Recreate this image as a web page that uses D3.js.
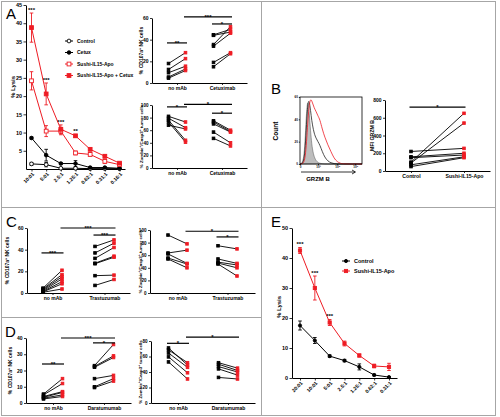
<!DOCTYPE html>
<html><head><meta charset="utf-8">
<script src="https://cdn.jsdelivr.net/npm/d3@7"></script>
<style>
body{margin:0;background:#fff;}
svg{display:block;font-family:"Liberation Sans",Arial,sans-serif;font-weight:bold;}
text{fill:#000;}
</style></head><body>
<script>
// ---------------- DATA ----------------
// Panel A: % lysis vs E:T ratio
const ratiosA = ["10:01","5:01","2.5:1","1.25:1","0.62:1","0.31:1","0.16:1"];
const seriesNamesA = ["Control","Cetux","Sushi-IL15-Apo","Sushi-IL15-Apo + Cetux"];
const lysisControlA = [1.4,1.2,0.2,0.2,0.1,0.1,0.1];
const lysisControlErrA = [0.4,0.6,0.1,0.1,0,0,0];
const lysisCetuxA = [8.5,3.8,1.5,1.5,0.4,0.4,0.2];
const lysisCetuxErrA = [0.3,1.6,0.3,0.8,0.2,0.2,0.1];
const lysisSushiA = [24.2,10.4,10.4,4.4,4.0,2.1,1.2];
const lysisSushiErrA = [2.5,1.5,1.0,0.5,0.5,0.6,0.3];
const lysisComboA = [38.8,20.6,10.9,9.1,5.4,3.5,1.6];
const lysisComboErrA = [4.0,3.0,1.2,0.4,0.4,0.4,0.3];
const starsA = ["***","***","***","**","","",""];
const yTicksA = [5,10,15,20,25,30,35,40,45];

// Panel A: paired plots (Cetuximab)
const catsA = ["no mAb","Cetuximab"];
const aCd107NoMabCtrl = [18,12.5,9.5,5.5,4.5];
const aCd107NoMabSushi = [28,22.5,15.5,13,11.5];
const aCd107CetuxCtrl = [44.5,44,35.5,34,19,15];
const aCd107CetuxSushi = [49.5,47,52,46,28,27];
const aZombNoMabCtrl = [82,79,76,73,68];
const aZombNoMabSushi = [73,64,44,41,62];
const aZombCetuxCtrl = [75,73,70,57,47];
const aZombCetuxSushi = [60,58,57,40,35];
const sigACd107 = [
  {a:"no mAb",sa:-1,b:"no mAb",sb:1,v:37,t:"**"},
  {a:"no mAb",sa:1,b:"Cetuximab",sb:1,v:61,t:"***"},
  {a:"Cetuximab",sa:-1,b:"Cetuximab",sb:1,v:54.5,t:"*"}];
const sigAZomb = [
  {a:"no mAb",sa:-1,b:"no mAb",sb:1,v:97,t:"*"},
  {a:"no mAb",sa:1,b:"Cetuximab",sb:1,v:101,t:"*"},
  {a:"Cetuximab",sa:-1,b:"Cetuximab",sb:1,v:87,t:"*"}];

// Panel B: GRZM B histogram + MFI
const histBins = [0,3,6,8,10,12,14,16,18,20,23,26,29,32,36,40,45,50,55,60,65,70,100];
const histIsotype = [0,0.5,5,18,42,57,53,37,23,13,6,3,1.2,0.6,0.3,0,0,0,0,0,0,0,0];
const histControl = [0,0.3,2.5,11,30,51,58,53,43,35,27,23,20,17,11,6,2.5,1,0.3,0,0,0,0];
const histSushi = [0,0,1.2,5,15,33,48,57,58,55,50,47,43,40,31,24,17,11,5,2,0.6,0,0];
const histYTicks = [0,20,40,60];
const histXTickPos = [0,29,60,89];
const histXTickLabels = ["0","10³","10⁴","10⁵"];
const catsB = ["Control","Sushi-IL15-Apo"];
const bMfiCtrl = [220,160,150,100,90,70,50];
const bMfiSushi = [255,200,180,650,540,160,150];
const sigB = [{a:"Control",sa:0,b:"Sushi-IL15-Apo",sb:0,v:720,t:"*"}];

// Panel C: Trastuzumab
const catsC = ["no mAb","Trastuzumab"];
const cCd107NoMabCtrl = [4.5,3.7,3.0,2.2,1.5,1.0,0.7];
const cCd107NoMabSushi = [21,17,15,13,10.5,8.5,3.7];
const cCd107TrasCtrl = [43,37,32,27.5,27,16,7];
const cCd107TrasSushi = [49,46,42,34,33,16.5,12.5];
const cZombNoMabCtrl = [92,63.5,62,55.5,54];
const cZombNoMabSushi = [78,68,47,46,40];
const cZombTrasCtrl = [75,54,49,47.5,46];
const cZombTrasSushi = [70,47,44.5,40,27];
const sigCCd107 = [
  {a:"no mAb",sa:-1,b:"no mAb",sb:1,v:37,t:"***"},
  {a:"no mAb",sa:1,b:"Trastuzumab",sb:1,v:60,t:"***"},
  {a:"Trastuzumab",sa:-1,b:"Trastuzumab",sb:1,v:53.5,t:"***"}];
const sigCZomb = [
  {a:"no mAb",sa:1,b:"Trastuzumab",sb:1,v:98,t:"*"},
  {a:"Trastuzumab",sa:-1,b:"Trastuzumab",sb:1,v:89,t:"*"}];

// Panel D: Daratumumab
const catsD = ["no mAb","Daratumumab"];
const dCd107NoMabCtrl = [5.5,5,4,3.5,3,2.5];
const dCd107NoMabSushi = [15,12,7,6.5,5,4];
const dCd107DaraCtrl = [23,22.5,22,15,10,9.5];
const dCd107DaraSushi = [36,29,28,17,15,13.5];
const dZombNoMabCtrl = [71,68.5,64.5,59.5,53];
const dZombNoMabSushi = [49,52,46,39,31];
const dZombDaraCtrl = [52,50,47,44,33];
const dZombDaraSushi = [45,42,40,36,31];
const sigDCd107 = [
  {a:"no mAb",sa:-1,b:"no mAb",sb:1,v:24,t:"**"},
  {a:"no mAb",sa:1,b:"Daratumumab",sb:1,v:40,t:"***"},
  {a:"Daratumumab",sa:-1,b:"Daratumumab",sb:1,v:37,t:"*"}];
const sigDZomb = [
  {a:"no mAb",sa:-1,b:"no mAb",sb:1,v:77,t:"*"},
  {a:"no mAb",sa:1,b:"Daratumumab",sb:1,v:85,t:"*"}];

// Panel E: % lysis
const ratiosE = ["20:01","10:01","5:01","2.5:1","1.25:1","0.62:1","0.31:1"];
const seriesNamesE = ["Control","Sushi-IL15-Apo"];
const lysisControlE = [17.5,12.5,7.3,5.8,3.7,1.0,0.3];
const lysisControlErrE = [1.5,1.0,0.4,0.4,1.0,0.3,0.2];
const lysisSushiE = [42.5,30,18.5,11.5,7.5,4,3.7];
const lysisSushiErrE = [1,4,1,0.8,0.5,0.6,1.2];
const starsE = ["***","***","***","","","",""];
const yTicksE = [0,10,20,30,40,50];

// ---------------- DRAWING ----------------
const RED = "#ee1c24";
const svg = d3.select("body").append("svg").attr("width",500).attr("height",417);
svg.append("rect").attr("width",500).attr("height",417).attr("fill","#fff");

const border = svg.append("g").attr("stroke","#a6a6a6").attr("stroke-width",1).attr("fill","none");
border.append("rect").attr("x",1.5).attr("y",1.5).attr("width",494).attr("height",414);
border.append("line").attr("x1",261.5).attr("x2",261.5).attr("y1",1.5).attr("y2",415.5);
border.append("line").attr("x1",1.5).attr("x2",495.5).attr("y1",207.5).attr("y2",207.5);
border.append("line").attr("x1",1.5).attr("x2",261.5).attr("y1",317.5).attr("y2",317.5);

[["A",6,19],["B",271,94],["C",6,227],["D",5,337],["E",271,227]].forEach(([t,x,y])=>{
  svg.append("text").attr("x",x).attr("y",y).attr("fill","#000").style("font-size","15px").style("font-weight","normal").text(t);
});

function styleAxis(sel, fs){
  sel.attr("font-family",null).attr("font-size",null);
  sel.selectAll(".domain").attr("stroke","#000").attr("stroke-width",1);
  sel.selectAll(".tick line").attr("stroke","#000").attr("stroke-width",0.8);
  sel.selectAll(".tick text").attr("fill","#000").style("font-size",fs+"px");
}
function rotLabel(g,x,y,parts,fs){
  const t = g.append("text").attr("transform",`translate(${x},${y}) rotate(-90)`)
    .attr("text-anchor","middle").attr("fill","#000").style("font-size",fs+"px");
  let prevSup=false;
  parts.forEach(([s,sup])=>{
    const ts = t.append("tspan").text(s);
    if(sup){ ts.attr("dy",-fs*0.38).style("font-size",(fs*0.7)+"px"); prevSup=true; }
    else if(prevSup){ ts.attr("dy",fs*0.38); prevSup=false; }
  });
  return t;
}
const CD107 = [["% CD107a",0],["+",1],[" NK cells",0]];
const ZOMB = [["% Zombie",0],["+",1],["/Casp3",0],["+",1],[" tumor cells",0]];

function marker(g, shape, cx, cy, size, color, filled){
  if(shape==="circle"){
    g.append("circle").attr("cx",cx).attr("cy",cy).attr("r",size/2)
      .attr("fill",filled?color:"#fff").attr("stroke",color).attr("stroke-width",0.9);
  } else {
    g.append("rect").attr("x",cx-size/2).attr("y",cy-size/2).attr("width",size).attr("height",size)
      .attr("fill",filled?color:"#fff").attr("stroke",color).attr("stroke-width",0.9);
  }
}

function paired(o){
  const g = svg.append("g");
  const y = d3.scaleLinear().domain([0,o.max]).range([o.yb,o.yt]);
  const step = o.c2-o.c1;
  const x = d3.scalePoint().domain(o.cats).range([o.x0,o.x1]).padding(((o.x1-o.x0)/step-1)/2);
  g.append("g").attr("transform",`translate(${o.x0},0)`)
    .call(d3.axisLeft(y).tickValues(o.ticks).tickSize(2).tickSizeOuter(0).tickPadding(1.5))
    .call(styleAxis,o.tfs||5);
  g.append("g").attr("transform",`translate(0,${o.yb})`)
    .call(d3.axisBottom(x).tickSize(2).tickSizeOuter(0).tickPadding(1.5))
    .call(styleAxis,o.cfs||5);
  o.groups.forEach((pair,gi)=>{
    let xb, xr;
    if(o.across){ xb=x(o.cats[0]); xr=x(o.cats[1]); }
    else { const cat=o.cats[gi]; xb=x(cat)-o.off; xr=x(cat)+o.off; }
    pair[0].forEach((b,i)=>{
      g.append("line").attr("x1",xb).attr("y1",y(b)).attr("x2",xr).attr("y2",y(pair[1][i]))
        .attr("stroke","#000").attr("stroke-width",0.9);
    });
    pair[0].forEach(b=>marker(g,"square",xb,y(b),2.6,"#000",true));
    pair[1].forEach(r=>marker(g,"square",xr,y(r),2.6,RED,true));
  });
  o.sig.forEach(s=>{
    const xa=x(s.a)+s.sa*o.off-1.5, xz=x(s.b)+s.sb*o.off+1.5, yy=y(s.v);
    g.append("line").attr("x1",xa).attr("x2",xz).attr("y1",yy).attr("y2",yy)
      .attr("stroke","#000").attr("stroke-width",1.2);
    g.append("text").attr("x",(xa+xz)/2).attr("y",yy+1.8).attr("text-anchor","middle").attr("fill","#000")
      .style("font-size","6px").text(s.t);
  });
  rotLabel(g,o.lx,(o.yb+o.yt)/2,o.label,o.lfs||5);
  return g;
}

function lysisChart(o){
  const g = svg.append("g");
  const x = d3.scalePoint().domain(o.ratios).range([o.x0,o.x1]).padding(o.pad);
  const y = d3.scaleLinear().domain([0,o.max]).range([o.yb,o.yt]);
  g.append("g").attr("transform",`translate(${o.x0},0)`)
    .call(d3.axisLeft(y).tickValues(o.ticks).tickSize(2.5).tickSizeOuter(0).tickPadding(1.5))
    .call(styleAxis,5.5);
  g.append("g").attr("transform",`translate(0,${o.yb})`)
    .call(d3.axisBottom(x).tickSize(2.5).tickSizeOuter(0))
    .call(styleAxis,5)
    .call(a=>a.selectAll(".tick text").attr("y",0).attr("dy",0).attr("text-anchor","end")
      .attr("transform","translate(2.5,5.5) rotate(-45)"));
  o.series.forEach(s=>{
    g.append("path").datum(s.v)
      .attr("d",d3.line().x((d,i)=>x(o.ratios[i])).y(d=>y(d)))
      .attr("fill","none").attr("stroke",s.color).attr("stroke-width",1);
    s.v.forEach((v,i)=>{
      const e=s.e[i], cx=x(o.ratios[i]);
      if(e>0){
        g.append("line").attr("x1",cx).attr("x2",cx).attr("y1",y(Math.max(0,v-e))).attr("y2",y(v+e)).attr("stroke",s.color).attr("stroke-width",0.9);
        [v-e,v+e].forEach(c=>g.append("line").attr("x1",cx-1.8).attr("x2",cx+1.8).attr("y1",y(Math.max(0,c))).attr("y2",y(Math.max(0,c))).attr("stroke",s.color).attr("stroke-width",0.9));
      }
    });
    s.v.forEach((v,i)=>marker(g,s.shape,x(o.ratios[i]),y(v),s.size,s.color,s.filled));
  });
  const top=o.series[o.series.length-1];
  o.stars.forEach((t,i)=>{
    if(!t) return;
    g.append("text").attr("x",x(o.ratios[i])).attr("y",y(top.v[i]+top.e[i])-1.2).attr("text-anchor","middle").attr("fill","#000")
      .style("font-size","6px").text(t);
  });
  rotLabel(g,o.lx,o.ly,[["% Lysis",0]],o.lfs);
  o.legend.forEach((L,i)=>{
    const ly=o.legY+i*o.legDy;
    g.append("line").attr("x1",o.legX-4).attr("x2",o.legX+4).attr("y1",ly).attr("y2",ly).attr("stroke",L.color).attr("stroke-width",1);
    marker(g,L.shape,o.legX,ly,L.size,L.color,L.filled);
    g.append("text").attr("x",o.legX+8).attr("y",ly+1.8).attr("fill","#000").style("font-size",o.legFs+"px").text(L.name);
  });
}

// ---- Panel A line chart
const seriesA = [
  {name:seriesNamesA[0],v:lysisControlA,e:lysisControlErrA,color:"#000",shape:"circle",size:3.8,filled:false},
  {name:seriesNamesA[1],v:lysisCetuxA,e:lysisCetuxErrA,color:"#000",shape:"circle",size:3.6,filled:true},
  {name:seriesNamesA[2],v:lysisSushiA,e:lysisSushiErrA,color:RED,shape:"square",size:3.8,filled:false},
  {name:seriesNamesA[3],v:lysisComboA,e:lysisComboErrA,color:RED,shape:"square",size:3.8,filled:true}];
lysisChart({ratios:ratiosA,x0:26,x1:125,pad:0.375,yb:169,yt:5,max:45,ticks:yTicksA,series:seriesA,
  stars:starsA,lx:15,ly:87,lfs:6,legend:seriesA,legX:69,legY:41,legDy:11.5,legFs:5});

// ---- Panel A paired plots
paired({x0:152,x1:247,c1:177,c2:222,yb:83,yt:18,max:60,ticks:[0,20,40,60],cats:catsA,off:8.5,
  groups:[[aCd107NoMabCtrl,aCd107NoMabSushi],[aCd107CetuxCtrl,aCd107CetuxSushi]],sig:sigACd107,lx:143,label:CD107,lfs:5});
paired({x0:152,x1:247,c1:177,c2:222,yb:168,yt:105,max:100,ticks:[0,20,40,60,80,100],cats:catsA,off:8.5,
  groups:[[aZombNoMabCtrl,aZombNoMabSushi],[aZombCetuxCtrl,aZombCetuxSushi]],sig:sigAZomb,lx:143,label:ZOMB,lfs:4.4,tfs:4.6});

// ---- Panel B histogram
(function(){
  const g = svg.append("g");
  const xH = d3.scaleLinear().domain([0,100]).range([300,362]);
  const yH = d3.scaleLinear().domain([0,60]).range([164,97]);
  g.append("path").datum(histIsotype)
    .attr("d",d3.area().x((d,i)=>xH(histBins[i])).y0(yH(0)).y1(d=>yH(d)).curve(d3.curveBasis))
    .attr("fill","#bdbdbd").attr("stroke","#666").attr("stroke-width",0.6);
  g.append("path").datum(histControl)
    .attr("d",d3.line().x((d,i)=>xH(histBins[i])).y(d=>yH(d)).curve(d3.curveBasis))
    .attr("fill","none").attr("stroke","#222").attr("stroke-width",0.8);
  g.append("path").datum(histSushi)
    .attr("d",d3.line().x((d,i)=>xH(histBins[i])).y(d=>yH(d)).curve(d3.curveBasis))
    .attr("fill","none").attr("stroke",RED).attr("stroke-width",0.8);
  g.append("rect").attr("x",300).attr("y",97).attr("width",62).attr("height",67)
    .attr("fill","none").attr("stroke","#000").attr("stroke-width",0.8);
  g.append("g").attr("transform","translate(300,0)")
    .call(d3.axisLeft(yH).tickValues(histYTicks).tickSize(1.2).tickPadding(1))
    .call(styleAxis,3).call(a=>a.select(".domain").remove());
  g.append("g").attr("transform","translate(0,164)")
    .call(d3.axisBottom(xH).tickValues(histXTickPos).tickFormat((d,i)=>histXTickLabels[i]).tickSize(1.2).tickPadding(0.5))
    .call(styleAxis,3).call(a=>a.select(".domain").remove());
  g.append("path").attr("d","M301,172H355M352,170L355.5,172L352,174").attr("fill","none").attr("stroke","#000").attr("stroke-width",0.8);
  g.append("text").attr("x",318).attr("y",181).attr("text-anchor","middle").attr("fill","#000").style("font-size","6px").text("GRZM B");
  rotLabel(g,278,131,[["Count",0]],6.5);
})();

// ---- Panel B MFI
paired({x0:385,x1:490,c1:411,c2:464,yb:171,yt:100,max:800,ticks:[0,200,400,600,800],cats:catsB,off:0,across:true,
  groups:[[bMfiCtrl,bMfiSushi]],sig:sigB,lx:374,label:[["MFI GRZM B",0]],lfs:5.2,cfs:5.2});

// ---- Panel C
paired({x0:27,x1:130,c1:53,c2:105,yb:293,yt:228,max:60,ticks:[0,20,40,60],cats:catsC,off:9.5,
  groups:[[cCd107NoMabCtrl,cCd107NoMabSushi],[cCd107TrasCtrl,cCd107TrasSushi]],sig:sigCCd107,lx:9,label:CD107,lfs:5});
paired({x0:150,x1:255,c1:177.5,c2:227.5,yb:293,yt:230,max:100,ticks:[0,20,40,60,80,100],cats:catsC,off:9.5,
  groups:[[cZombNoMabCtrl,cZombNoMabSushi],[cZombTrasCtrl,cZombTrasSushi]],sig:sigCZomb,lx:142,label:ZOMB,lfs:4.4,tfs:4.6});

// ---- Panel D
paired({x0:26,x1:131,c1:54,c2:105,yb:403,yt:338,max:40,ticks:[0,10,20,30,40],cats:catsD,off:9.5,
  groups:[[dCd107NoMabCtrl,dCd107NoMabSushi],[dCd107DaraCtrl,dCd107DaraSushi]],sig:sigDCd107,lx:12,label:CD107,lfs:5});
paired({x0:151,x1:255,c1:178,c2:228,yb:403,yt:341,max:80,ticks:[0,20,40,60,80],cats:catsD,off:9.5,
  groups:[[dZombNoMabCtrl,dZombNoMabSushi],[dZombDaraCtrl,dZombDaraSushi]],sig:sigDZomb,lx:142,label:ZOMB,lfs:4.4,tfs:4.6});

// ---- Panel E
const seriesE = [
  {name:seriesNamesE[0],v:lysisControlE,e:lysisControlErrE,color:"#000",shape:"circle",size:3.2,filled:true},
  {name:seriesNamesE[1],v:lysisSushiE,e:lysisSushiErrE,color:RED,shape:"square",size:3.2,filled:true}];
lysisChart({ratios:ratiosE,x0:292,x1:397,pad:0.54,yb:378,yt:228,max:50,ticks:yTicksE,series:seriesE,
  stars:starsE,lx:281,ly:307,lfs:6,legend:seriesE,legX:346,legY:261,legDy:10,legFs:5.5});
</script></body></html>
